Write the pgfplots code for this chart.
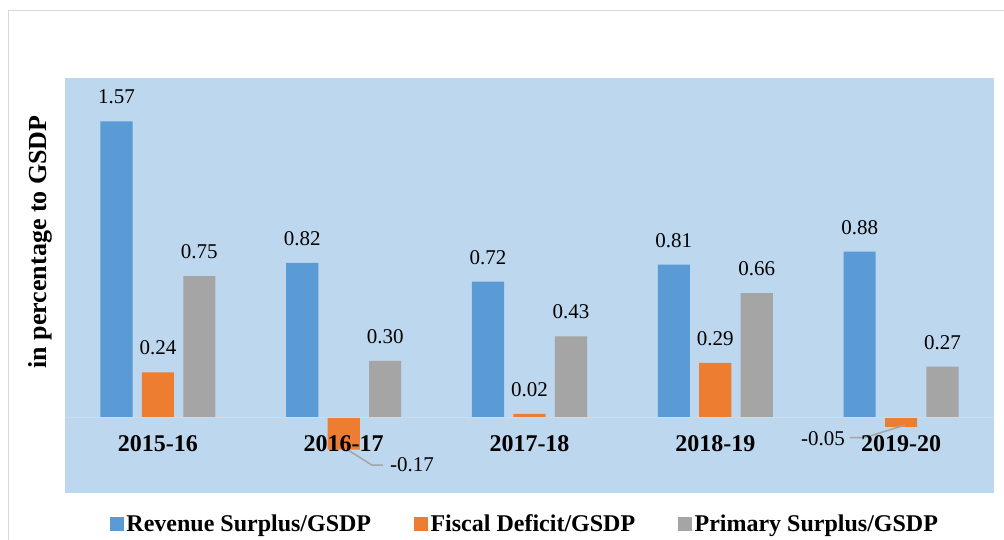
\documentclass[border=0pt]{standalone}
\usepackage{fontspec}
\setmainfont{Liberation Serif}
\usepackage{pgfplots}
\pgfplotsset{compat=1.18}
\definecolor{cblue}{HTML}{5B9BD5}
\definecolor{corange}{HTML}{ED7D31}
\definecolor{cgray}{HTML}{A5A5A5}
\definecolor{cbg}{HTML}{BDD7EE}
\definecolor{cframe}{HTML}{D9D9D9}
\begin{document}
\begin{tikzpicture}[x=1pt,y=1pt]
\useasboundingbox (0,0) rectangle (1004,540);
\draw[color=cframe, line width=1.5pt] (8.5,-10) -- (8.5,529.5) -- (1015,529.5);
\begin{axis}[
  at={(65pt,47pt)}, anchor=south west, scale only axis,
  width=929pt, height=415pt,
  xmin=-0.5, xmax=4.5, ymin=-0.4, ymax=1.8,
  axis on top,
  axis line style={draw=none},
  axis background/.style={fill=cbg},
  ytick=\empty,
  xtick={0,1,2,3,4},
  xticklabels={2015-16,2016-17,2017-18,2018-19,2019-20},
  major tick length=0pt,
  xticklabel style={font=\fontsize{24}{28}\selectfont\bfseries, anchor=center, yshift=49pt},
  extra y ticks={0}, extra y tick labels={},
  extra y tick style={grid=major, major grid style={draw=cframe, line width=1.8pt}},
  ybar, bar width=0.173,
  point meta=explicit symbolic,
  nodes near coords,
  nodes near coords style={font=\fontsize{21}{24}\selectfont, anchor=south, inner sep=0pt, yshift=17pt, text=black},
  clip=false,
  ylabel={in percentage to GSDP},
  ylabel style={font=\fontsize{26}{30}\selectfont\bfseries, at={(axis description cs:-0.0269,0.605)}, anchor=center},
  legend columns=3,
  legend style={at={(0.4957,-0.0747)}, anchor=center, draw=none, fill=none,
    font=\fontsize{24}{28}\selectfont\bfseries, nodes={inner sep=3pt},
    /tikz/every even column/.append style={column sep=40pt}},
]
\addplot[fill=cblue, draw=none, bar shift=-0.223, forget plot] coordinates {
  (0,1.57) [1.57] (1,0.82) [0.82] (2,0.72) [0.72] (3,0.81) [0.81] (4,0.88) [0.88]};
\addplot[fill=corange, draw=none, bar shift=0, forget plot] coordinates {
  (0,0.24) [0.24] (1,-0.17) [{}] (2,0.02) [0.02] (3,0.29) [0.29] (4,-0.05) [{}]};
\addplot[fill=cgray, draw=none, bar shift=0.223, forget plot] coordinates {
  (0,0.75) [0.75] (1,0.30) [0.30] (2,0.43) [0.43] (3,0.66) [0.66] (4,0.27) [0.27]};
\addlegendimage{legend image code/.code={\fill[cblue] (0pt,-6.5pt) rectangle (13pt,6.5pt);}}
\addlegendentry{Revenue Surplus/GSDP}
\addlegendimage{legend image code/.code={\fill[corange] (0pt,-6.5pt) rectangle (13pt,6.5pt);}}
\addlegendentry{Fiscal Deficit/GSDP}
\addlegendimage{legend image code/.code={\fill[cgray] (0pt,-6.5pt) rectangle (13pt,6.5pt);}}
\addlegendentry{Primary Surplus/GSDP}
\draw[cgray, line width=1.5pt] (axis cs:1.023,-0.172) -- (axis cs:1.152,-0.252) -- (axis cs:1.211,-0.252);
\node[anchor=west, inner sep=0pt, font=\fontsize{21}{24}\selectfont] at (axis cs:1.249,-0.252) {-0.17};
\draw[cgray, line width=1.5pt] (axis cs:4.021,-0.040) -- (axis cs:3.806,-0.106) -- (axis cs:3.725,-0.106);
\node[anchor=east, inner sep=0pt, font=\fontsize{21}{24}\selectfont] at (axis cs:3.698,-0.11) {-0.05};
\end{axis}
\end{tikzpicture}
\end{document}
